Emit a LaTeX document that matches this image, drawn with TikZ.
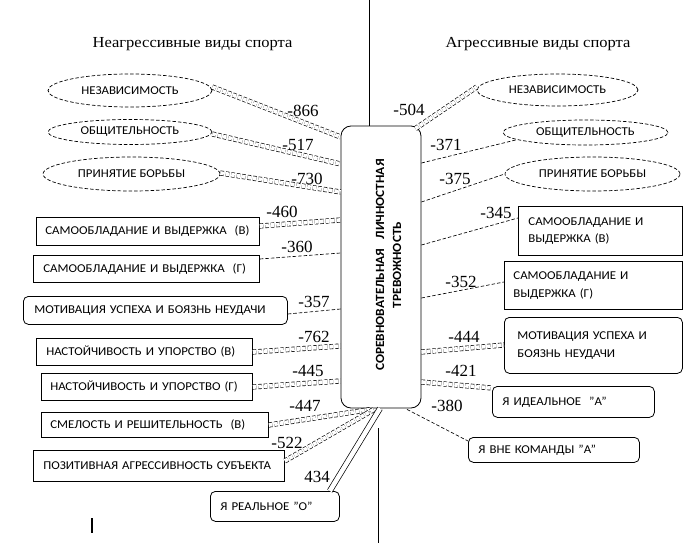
\documentclass[tikz,border=0pt]{standalone}
\usepackage{fontspec}
\usetikzlibrary{shapes.geometric}
\newfontfamily\bx[FakeStretch=1.07]{Carlito}
\newfontfamily\tnr[FakeStretch=1.08]{Liberation Serif}
\newfontfamily\tnrn{Liberation Serif}
\begin{document}
\begin{tikzpicture}[x=1pt,y=-1pt,
  ell/.style={draw, ellipse, inner sep=0pt, line width=0.7pt, dash pattern=on 3.5pt off 2pt, font=\bx\fontsize{12}{17}\selectfont},
  sbox/.style={draw, rectangle, line width=0.8pt, inner xsep=10pt, inner ysep=0pt, anchor=north west, align=left, font=\bx\fontsize{12}{17.5}\selectfont},
  rbox/.style={sbox, rounded corners=5pt},
  dline/.style={line width=0.65pt, dash pattern=on 3.5pt off 2pt},
  ddline/.style={dline, double, double distance=3.8pt},
  num/.style={font=\tnrn\fontsize{17}{20}\selectfont, anchor=base, inner sep=0pt},
  head/.style={font=\tnr\fontsize{15.3}{18}\selectfont, anchor=base, inner sep=0pt}]
\useasboundingbox (0,0) rectangle (690,556);

% headers
\node[head] (H1) at (192.5,48) {Неагрессивные виды спорта};
\node[head] (H2) at (538,48) {Агрессивные виды спорта};

% central node
\node[draw, rounded corners=10pt, minimum width=80, minimum height=282, inner sep=0pt, line width=0.8pt] (C) at (381,267) {};
\node[rotate=90, align=center, inner sep=0pt, font=\bx\bfseries\fontsize{12.5}{17}\selectfont] (Ct) at (388.5,265) {СОРЕВНОВАТЕЛЬНАЯ\ \ \ ЛИЧНОСТНАЯ\\ТРЕВОЖНОСТЬ};

% vertical lines
\coordinate (T) at (369,0);
\draw[line width=0.8pt] (T) -- (T |- C.north);
\coordinate (B1) at (378,428);
\coordinate (B2) at (378,543);
\draw[line width=0.8pt] (B1) -- (B2);
\coordinate (K1) at (92,518);
\coordinate (K2) at (92,533);
\draw[line width=1.6pt] (K1) -- (K2);

% left ellipses
\node[ell, minimum width=164, minimum height=33] (E1) at (130,90.5) {НЕЗАВИСИМОСТЬ};
\node[ell, minimum width=164, minimum height=25] (E2) at (130,132) {ОБЩИТЕЛЬНОСТЬ};
\node[ell, minimum width=177, minimum height=34] (E3) at (131.5,174) {ПРИНЯТИЕ БОРЬБЫ};

% right ellipses
\node[ell, minimum width=161, minimum height=32] (F1) at (557.5,90) {НЕЗАВИСИМОСТЬ};
\node[ell, minimum width=165, minimum height=25] (F2) at (585.5,132.5) {ОБЩИТЕЛЬНОСТЬ};
\node[ell, minimum width=175, minimum height=34] (F3) at (592.5,174) {ПРИНЯТИЕ БОРЬБЫ};

% left boxes
\node[sbox, minimum width=223, minimum height=28, text width=205, inner xsep=9pt] (L4) at (36,217) {САМООБЛАДАНИЕ И ВЫДЕРЖКА\ \ (В)};
\node[sbox, minimum width=226, minimum height=27, text width=206] (L5) at (33,255) {САМООБЛАДАНИЕ И ВЫДЕРЖКА\ \ (Г)};
\node[rbox, minimum width=264, minimum height=28, text width=242, inner xsep=11pt] (L6) at (23,296) {МОТИВАЦИЯ УСПЕХА И БОЯЗНЬ НЕУДАЧИ};
\node[sbox, minimum width=216, minimum height=27, text width=196] (L7) at (36,338) {НАСТОЙЧИВОСТЬ И УПОРСТВО (В)};
\node[sbox, minimum width=211, minimum height=27, text width=193, inner xsep=9pt] (L8) at (41,373) {НАСТОЙЧИВОСТЬ И УПОРСТВО (Г)};
\node[sbox, minimum width=227, minimum height=25, text width=209, inner xsep=9pt] (L9) at (41,412) {СМЕЛОСТЬ И РЕШИТЕЛЬНОСТЬ\ \ (В)};
\node[sbox, minimum width=251, minimum height=31, text width=231] (L10) at (33,450) {ПОЗИТИВНАЯ АГРЕССИВНОСТЬ СУБЪЕКТА};
\node[rbox, minimum width=129, minimum height=30, text width=109] (L11) at (210,491) {Я РЕАЛЬНОЕ ”О”};

% right boxes
\node[sbox, minimum width=164, minimum height=49, text width=144] (R4) at (518,206) {САМООБЛАДАНИЕ И\\ВЫДЕРЖКА (В)};
\node[sbox, minimum width=178, minimum height=48, text width=160, inner xsep=9pt] (R5) at (504,261) {САМООБЛАДАНИЕ И\\ВЫДЕРЖКА (Г)};
\node[rbox, minimum width=178, minimum height=56, text width=152, inner xsep=13pt] (R6) at (504,317) {МОТИВАЦИЯ УСПЕХА И\\БОЯЗНЬ НЕУДАЧИ};
\node[rbox, minimum width=162, minimum height=31, text width=142] (R7) at (492,386) {Я ИДЕАЛЬНОЕ\ \ ”А”};
\node[rbox, minimum width=171, minimum height=25, text width=151] (R8) at (468,437) {Я ВНЕ КОМАНДЫ ”А”};

% left connectors
\draw[ddline] (E1.east |- 0,87) -- (C.west |- 0,137);
\draw[ddline] (E2.east |- 0,134) -- (C.west |- 0,164);
\draw[ddline] (E3.east |- 0,173) -- (C.west |- 0,192);
\draw[ddline] (L4.east |- 0,226) -- (C.west |- 0,220);
\draw[dline] (L5.east |- 0,259) -- (C.west |- 0,253);
\draw[dline] (L6.east |- 0,314) -- (C.west |- 0,309);
\draw[ddline] (L7.east |- 0,352) -- (C.west |- 0,346);
\draw[ddline] (L8.east |- 0,387) -- (C.west |- 0,381);
\draw[ddline] (L9.east |- 0,425) -- ([shift={(-10,1)}]C.south);
\draw[ddline] (L10.east |- 0,461) -- ([shift={(-7,1)}]C.south);
\draw[double, double distance=4.5pt, line width=0.7pt] ([shift={(-10,0)}]L11.north east) -- ([shift={(-1,0)}]C.south);

% right connectors
\draw[ddline] ([shift={(-6,3)}]C.north east) -- (F1.west |- 0,87);
\draw[dline] (C.east |- 0,163) -- (F2.186);
\draw[dline] (C.east |- 0,202) -- (F3.west);
\draw[dline] (C.east |- 0,245) -- (R4.west |- 0,218);
\draw[dline] (C.east |- 0,298) -- (R5.west |- 0,282);
\draw[ddline] (C.east |- 0,352) -- (R6.west |- 0,345);
\draw[ddline] (C.east |- 0,382) -- (R7.west |- 0,388);
\draw[dline] ([shift={(26,1)}]C.south) -- (R8.west |- 0,441);

% numbers
\node[num] (n1) at (303,117) {-866};
\node[num] (n2) at (298,151) {-517};
\node[num] (n3) at (307,184) {-730};
\node[num] (n4) at (282,217) {-460};
\node[num] (n5) at (297,252) {-360};
\node[num] (n6) at (314,307) {-357};
\node[num] (n7) at (314,342) {-762};
\node[num] (n8) at (308,376) {-445};
\node[num] (n9) at (305,411) {-447};
\node[num] (n10) at (287,448) {-522};
\node[num] (n11) at (317,482) {434};
\node[num] (m1) at (409,116) {-504};
\node[num] (m2) at (446,151) {-371};
\node[num] (m3) at (455,184) {-375};
\node[num] (m4) at (496,218) {-345};
\node[num] (m5) at (461,287) {-352};
\node[num] (m6) at (464,342) {-444};
\node[num] (m7) at (461,376) {-421};
\node[num] (m8) at (447,411) {-380};
\end{tikzpicture}
\end{document}
